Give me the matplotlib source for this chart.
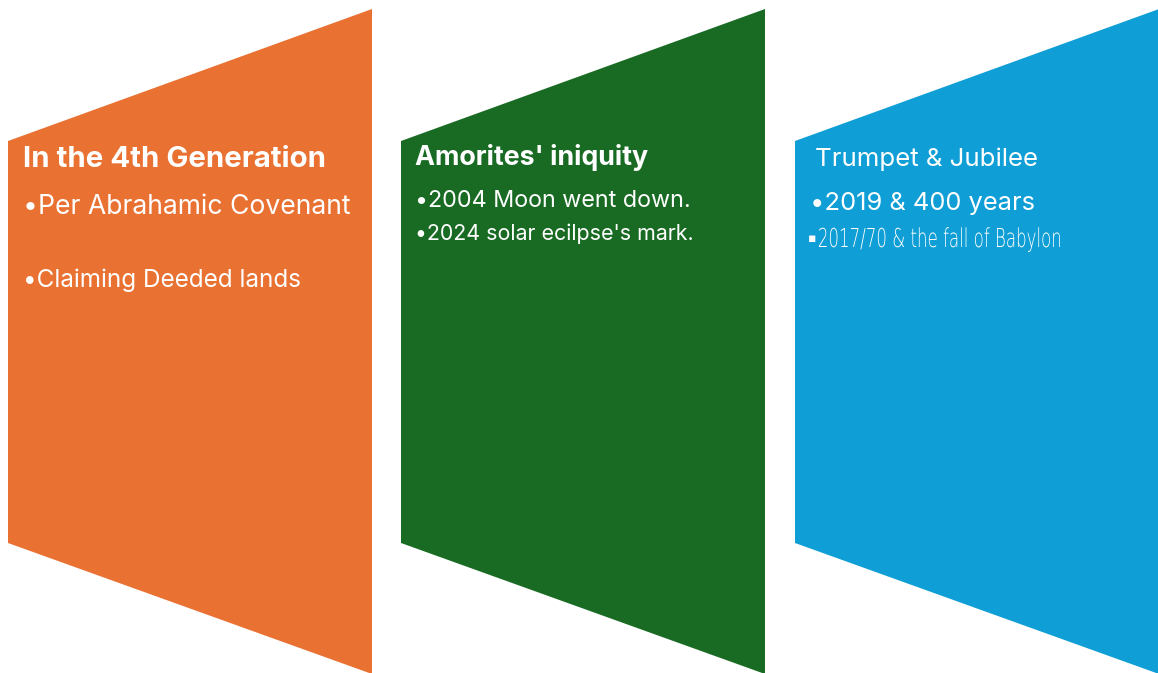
import matplotlib
matplotlib.use("Agg")
import matplotlib.pyplot as plt
from matplotlib.patches import Polygon, PathPatch
from matplotlib.textpath import TextPath
from matplotlib.font_manager import FontProperties
from matplotlib.transforms import Affine2D

# panel content
titles = ["In the 4th Generation", "Amorites' iniquity", "Trumpet & Jubilee"]
title_bold = [True, True, False]
bullets = [
    ["\u2022Per Abrahamic Covenant", "\u2022Claiming Deeded lands"],
    ["\u20222004 Moon went down.", "\u20222024 solar ecilpse's mark."],
    ["\u20222019 & 400 years", "\u25aa2017/70 & the fall of Babylon"],
]
colors = ["#E97132", "#196B24", "#0F9ED5"]

W, H = 1158, 673
fig = plt.figure(figsize=(W / 100, H / 100), dpi=100)
ax = fig.add_axes([0, 0, 1, 1])
ax.set_xlim(0, W)
ax.set_ylim(H, 0)
ax.axis("off")

lefts = [8, 401, 795]
width = 364
for x0, c in zip(lefts, colors):
    x1 = x0 + width
    ax.add_patch(Polygon([(x0, 141), (x1, 9), (x1, 674), (x0, 543)],
                         closed=True, facecolor=c, edgecolor="none"))

fig.canvas.draw()
renderer = fig.canvas.get_renderer()


def fit_text(x, y, s, target_w, **kw):
    t = ax.text(x, y, s, color="white", va="baseline", ha="left", fontsize=16, **kw)
    bb = t.get_window_extent(renderer)
    t.set_fontsize(16 * target_w / bb.width)
    return t


def squeezed_text(x, y, s, target_w, cap_h):
    # narrow, tall lettering (the reference uses a condensed display face)
    bullet, s = s[0], s[1:]
    ax.text(x, y - cap_h * 0.45, bullet, color="white", va="center", ha="left",
            fontsize=9, family="DejaVu Sans")
    x += 11
    target_w -= 11
    fp = FontProperties(family="DejaVu Sans", weight="light")
    path = TextPath((0, 0), s, size=1, prop=fp)
    ext = path.get_extents()
    cap = TextPath((0, 0), "B", size=1, prop=fp).get_extents().height
    sx = target_w / ext.width
    sy = cap_h / cap
    tr = Affine2D().translate(-ext.x0, 0).scale(sx, -sy).translate(x, y) + ax.transData
    ax.add_patch(PathPatch(path, facecolor="white", edgecolor="none", transform=tr))


# (x, baseline, right edge)
title_pos = [(23, 167, 326), (415, 165, 649), (815, 166, 1039)]
bullet_pos = [
    [(23, 214, 352), (23, 287, 302)],
    [(415, 207, 692), (415, 240, 695)],
    [(810, 210, 1036), (808, 247, 1060)],
]

for i in range(3):
    x, y, r = title_pos[i]
    fit_text(x, y, titles[i], r - x, family="Inter",
             fontweight="bold" if title_bold[i] else "normal")
    for j, s in enumerate(bullets[i]):
        x, y, r = bullet_pos[i][j]
        if i == 2 and j == 1:
            squeezed_text(x, y, s, r - x, 19)
        else:
            fit_text(x, y, s, r - x, family="Inter")

fig.savefig("out.png", dpi=100)
